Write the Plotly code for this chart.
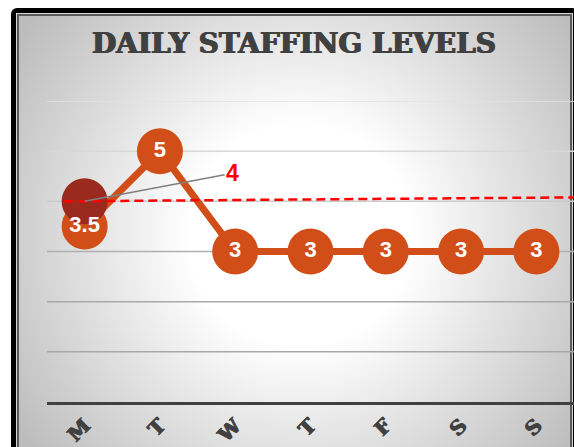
import base64
import plotly.graph_objects as go

# ---- data ----
days = ["M", "T", "W", "T", "F", "S", "S"]
staff = [3.5, 5, 3, 3, 3, 3, 3]
target_value = 4
target_x = [-0.27, 6.6]
target_y = [4.0, 4.08]
y_ticks = [1, 2, 3, 4, 5, 6]

x = list(range(len(days)))
labels = [f"{v:g}" for v in staff]

# ---- style ----
ORANGE = "#D24E18"
DARKRED = "#9B2A1E"
grid_colors = {6: "#e2e2e2", 5: "#d8d8d8", 4: "#cbcbcb", 3: "#b0b0b0", 2: "#a9a9a9", 1: "#a8a8a8"}
HEAVY = "0.7px 0 0 #404040, -0.7px 0 0 #404040"

W, H = 574, 447
ML, MR, MT, MB = 47, 0, 101, 45
PW, PH = W - ML - MR, H - MT - MB

svg = f'''<svg xmlns="http://www.w3.org/2000/svg" width="{W}" height="{H}" viewBox="0 0 {W} {H}">
<defs><radialGradient id="g" gradientUnits="userSpaceOnUse" cx="300" cy="235" r="345">
<stop offset="0" stop-color="#ffffff"/><stop offset="0.32" stop-color="#ffffff"/><stop offset="1" stop-color="#bcbcbc"/></radialGradient></defs>
<rect width="{W}" height="{H}" fill="#ffffff"/>
<rect x="11" y="8" width="567" height="470" rx="6" fill="#000000"/>
<rect x="16" y="13" width="557" height="470" fill="#d4d4d4"/>
<rect x="17" y="14" width="555" height="470" fill="#5a5a5a"/>
<rect x="19" y="16" width="551" height="470" fill="url(#g)"/>
</svg>'''
src = "data:image/svg+xml;base64," + base64.b64encode(svg.encode()).decode()

fig = go.Figure()

fig.add_trace(go.Scatter(
    x=x, y=staff, mode="lines+markers",
    line=dict(color=ORANGE, width=7),
    marker=dict(color=ORANGE, size=46, line=dict(width=0)),
    cliponaxis=False, hoverinfo="skip", showlegend=False,
))
fig.add_trace(go.Scatter(
    x=[x[0]], y=[target_value], mode="markers",
    marker=dict(color=DARKRED, size=46, line=dict(width=0)),
    cliponaxis=False, hoverinfo="skip", showlegend=False,
))
fig.add_trace(go.Scatter(
    x=x, y=staff, mode="text", text=labels, textposition="middle center",
    textfont=dict(color="white", size=22, family="Liberation Sans", weight="bold"),
    cliponaxis=False, hoverinfo="skip", showlegend=False,
))
fig.add_trace(go.Scatter(
    x=target_x, y=target_y, mode="lines",
    line=dict(color="#FF0000", width=2.5, dash="9px,5px"),
    hoverinfo="skip", showlegend=False,
))

shapes = []
for v in y_ticks:
    shapes.append(dict(type="line", xref="paper", yref="y", x0=0, x1=1, y0=v, y1=v,
                       line=dict(color=grid_colors[v], width=1.5), layer="below"))

fig.add_annotation(
    x=x[0], y=target_value, xref="x", yref="y",
    text=f"{target_value:g}", showarrow=True, arrowhead=0, arrowwidth=1.5,
    arrowcolor="#808080", ax=148, ay=-28, standoff=0,
    font=dict(color="#FF0000", size=23, family="Liberation Sans", weight="bold"),
)

fig.update_layout(
    width=W, height=H,
    margin=dict(l=ML, r=MR, t=MT, b=MB, pad=0, autoexpand=False),
    paper_bgcolor="white", plot_bgcolor="rgba(0,0,0,0)",
    title=dict(text="DAILY STAFFING LEVELS", x=294 / W, y=1 - 43 / H,
               xanchor="center", yanchor="middle", xref="container", yref="container",
               font=dict(family="DejaVu Serif", size=28, color="#404040", weight="bold",
                         shadow=HEAVY)),
    images=[dict(source=src, xref="paper", yref="paper", x=-ML / PW, y=(PH + MT) / PH,
                 sizex=W / PW, sizey=H / PH, sizing="stretch",
                 xanchor="left", yanchor="top", layer="below")],
    shapes=shapes,
    xaxis=dict(range=[-0.5, 6.5], tickmode="array", tickvals=x, ticktext=days,
               tickangle=-45, showgrid=False, zeroline=False, automargin=False,
               showline=True, linecolor="#404040", linewidth=3,
               ticks="", ticklabelstandoff=1,
               tickfont=dict(family="DejaVu Serif", size=20, color="#404040", weight="bold",
                             shadow=HEAVY)),
    yaxis=dict(range=[0, 6], showgrid=False, zeroline=False, showticklabels=False,
               showline=False, ticks="", automargin=False),
)

fig.write_html("out.html", config={"displayModeBar": False},
               post_script="document.body.style.margin='0';document.body.style.overflow='hidden';")
